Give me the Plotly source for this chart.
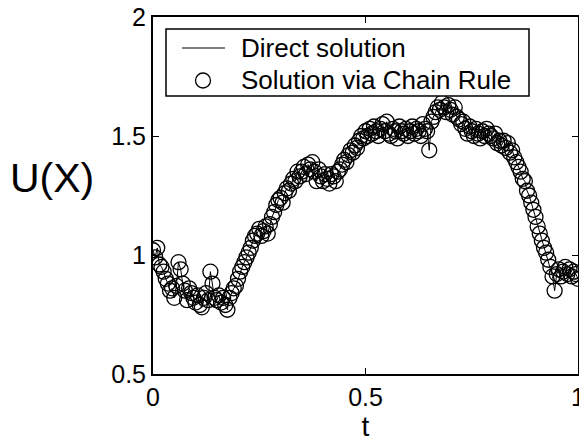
import numpy as np
import plotly.graph_objects as go

u_values = [
    1.02, 0.99, 1.03, 0.96, 0.95, 0.93, 0.90, 0.88, 0.85, 0.86,
    0.82, 0.87, 0.97, 0.94, 0.88, 0.85, 0.81, 0.86, 0.84, 0.82,
    0.80, 0.83, 0.79, 0.78, 0.82, 0.84, 0.81, 0.93, 0.88, 0.82,
    0.81, 0.83, 0.80, 0.82, 0.79, 0.77, 0.82, 0.84, 0.86, 0.87,
    0.90, 0.93, 0.95, 0.97, 0.99, 1.01, 1.03, 1.06, 1.08, 1.09,
    1.11, 1.08, 1.10, 1.12, 1.09, 1.13, 1.16, 1.18, 1.21, 1.23,
    1.24, 1.22, 1.26, 1.28, 1.27, 1.30, 1.32, 1.31, 1.35, 1.33,
    1.35, 1.37, 1.34, 1.38, 1.36, 1.39, 1.35, 1.31, 1.36, 1.33,
    1.31, 1.34, 1.32, 1.30, 1.34, 1.33, 1.31, 1.35, 1.36, 1.38,
    1.40, 1.39, 1.42, 1.44, 1.43, 1.46, 1.45, 1.48, 1.50, 1.49,
    1.52, 1.50, 1.53, 1.51, 1.54, 1.52, 1.50, 1.53, 1.55, 1.52,
    1.56, 1.51, 1.50, 1.53, 1.52, 1.49, 1.54, 1.52, 1.51, 1.53,
    1.50, 1.52, 1.54, 1.51, 1.53, 1.52, 1.50, 1.55, 1.53, 1.52,
    1.44, 1.56, 1.58, 1.60, 1.62, 1.61, 1.64, 1.62, 1.60, 1.63,
    1.61, 1.59, 1.62, 1.58, 1.57, 1.55, 1.56, 1.53, 1.51, 1.54,
    1.52, 1.50, 1.53, 1.51, 1.49, 1.52, 1.50, 1.53, 1.51, 1.50,
    1.49, 1.51, 1.47, 1.48, 1.46, 1.48, 1.45, 1.47, 1.43, 1.44,
    1.41, 1.39, 1.37, 1.35, 1.32, 1.31, 1.27, 1.25, 1.22, 1.19,
    1.16, 1.12, 1.09, 1.06, 1.03, 1.01, 0.98, 0.95, 0.91, 0.85,
    0.92, 0.94, 0.91, 0.93, 0.95, 0.92, 0.94, 0.91, 0.93, 0.92,
    0.90,
]
t_values = np.linspace(0, 1, len(u_values))

x_ticks = [0, 0.5, 1]
x_tick_labels = ["0", "0.5", "1"]
y_ticks = [0.5, 1, 1.5, 2]
y_tick_labels = ["0.5", "1", "1.5", "2"]
legend_labels = ["Direct solution", "Solution via Chain Rule"]

FONT = "Liberation Sans, Arial, Helvetica, sans-serif"
W, H = 579, 445
L, R, T, B = 153, 1, 17, 71
PW, PH = W - L - R, H - T - B


def px(xp):
    return (xp - L) / PW


def py(yp):
    return (H - B - yp) / PH


fig = go.Figure()
fig.add_trace(go.Scatter(
    x=t_values, y=u_values, mode="lines", name=legend_labels[0],
    line=dict(color="black", width=1), showlegend=False,
))
fig.add_trace(go.Scatter(
    x=t_values, y=u_values, mode="markers", name=legend_labels[1],
    marker=dict(symbol="circle-open", size=15, color="black",
                line=dict(color="black", width=1.3)),
    showlegend=False,
))

axis_common = dict(
    showline=True, linecolor="black", linewidth=2, mirror="ticks",
    ticks="inside", ticklen=6, tickwidth=1, tickcolor="black",
    showgrid=False, zeroline=False, automargin=False,
    tickfont=dict(family=FONT, size=25, color="black"),
    ticklabeloverflow="allow",
)

# custom legend box (layout decoration)
shapes = [
    dict(type="rect", xref="paper", yref="paper",
         x0=px(166), x1=px(529), y0=py(96), y1=py(29),
         line=dict(color="black", width=1.5), fillcolor="white", layer="above"),
    dict(type="line", xref="paper", yref="paper",
         x0=px(182), x1=px(225), y0=py(48), y1=py(48),
         line=dict(color="black", width=1), layer="above"),
    dict(type="circle", xref="paper", yref="paper",
         x0=px(195.5), x1=px(210.5), y0=py(88), y1=py(73),
         line=dict(color="black", width=1.3), layer="above"),
]
annotations = [
    dict(text="U(X)", x=px(52), y=py(178), xref="paper", yref="paper",
         showarrow=False, xanchor="center", yanchor="middle",
         font=dict(family=FONT, size=41, color="black")),
    dict(text=legend_labels[0], x=px(239), y=py(48), xref="paper", yref="paper",
         showarrow=False, xanchor="left", yanchor="middle",
         font=dict(family=FONT, size=26, color="black")),
    dict(text=legend_labels[1], x=px(239), y=py(80), xref="paper", yref="paper",
         showarrow=False, xanchor="left", yanchor="middle",
         font=dict(family=FONT, size=26, color="black")),
]

fig.update_layout(
    width=W, height=H,
    margin=dict(l=L, r=R, t=T, b=B),
    paper_bgcolor="white", plot_bgcolor="white",
    font=dict(family=FONT, color="black"),
    showlegend=False,
    xaxis=dict(range=[0, 1], tickvals=x_ticks, ticktext=x_tick_labels,
               title=dict(text="t", font=dict(family=FONT, size=28), standoff=2),
               **axis_common),
    yaxis=dict(range=[0.5, 2], tickvals=y_ticks, ticktext=y_tick_labels,
               **axis_common),
    shapes=shapes,
    annotations=annotations,
)

fig.write_html("out.html")
